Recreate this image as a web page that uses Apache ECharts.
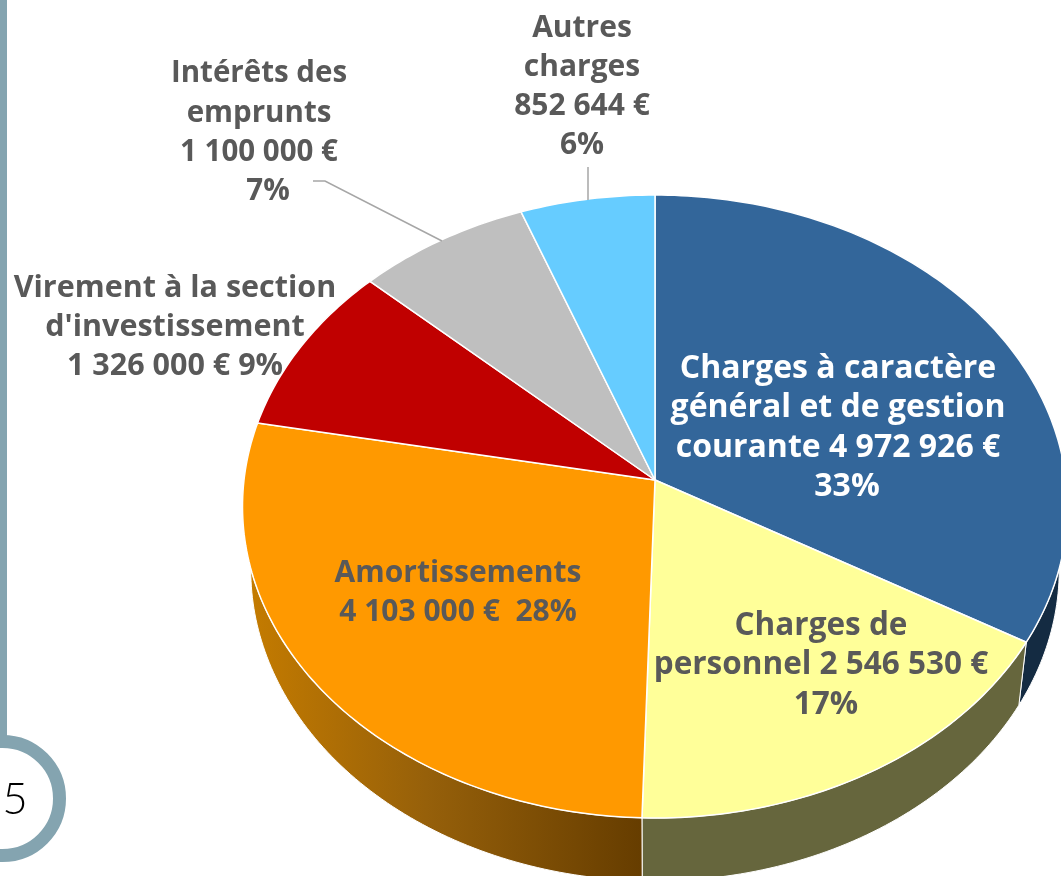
<!DOCTYPE html>
<html>
<head>
<meta charset="utf-8">
<style>html,body{margin:0;padding:0;background:#fff;overflow:hidden}#c{width:1061px;height:876px}</style>
<script src="https://cdn.jsdelivr.net/npm/echarts@6/dist/echarts.min.js"></script>
</head>
<body>
<div id="c"></div>
<script>
const categories = ["Charges à caractère général et de gestion courante","Charges de personnel","Amortissements","Virement à la section d'investissement","Intérêts des emprunts","Autres charges"];
const values = [4972926, 2546530, 4103000, 1326000, 1100000, 852644];
const topColors = ["#33669A","#FFFF99","#FF9900","#C00000","#BFBFBF","#66CCFF"];
const wallColors = ["#142B42","#66663D",null,"#7A0000","#808080","#408099"];
const labelLines = [
  ["Charges à caractère","général et de gestion","courante 4 972 926 €","33%"],
  ["Charges de","personnel 2 546 530 €","17%"],
  ["Amortissements","4 103 000 €  28%"],
  ["Virement à la section","d'investissement","1 326 000 € 9%"],
  ["Intérêts des","emprunts","1 100 000 €","7%"],
  ["Autres","charges","852 644 €","6%"]
];

// layout of the perspective disc
const CX = 655, TOP = 195, BOTTOM = 818, APEX = 480, RX = 411, DEPTH = 63, SHRINK = 0.98;
const persp = (APEX * 2 - TOP - BOTTOM) / (BOTTOM - TOP);
const A = BOTTOM * (1 + persp) - APEX;
function rim(deg) {
  const t = deg * Math.PI / 180, u = -Math.cos(t), s = Math.sin(t), d = 1 + persp * u;
  return [CX + RX * s / d, (A * u + APEX) / d];
}
const total = values.reduce((a, b) => a + b, 0);
function range(i) {
  let before = 0;
  for (let k = 0; k < i; k++) before += values[k];
  return [before / total * 360, (before + values[i]) / total * 360];
}
function arc(a0, a1) {
  const pts = [], n = Math.max(2, Math.ceil(a1 - a0));
  for (let j = 0; j <= n; j++) pts.push(rim(a0 + (a1 - a0) * j / n));
  return pts;
}
const lower = p => [CX + (p[0] - CX) * SHRINK, p[1] + DEPTH];

const labelLayout = [
  {x:838, y:369, size:32, fill:'#fff', dx:[0,0,0,9]},
  {x:821, y:626, size:31.5, fill:'#595959', dx:[0,0,5]},
  {x:458, y:573, size:30, fill:'#595959', dx:[0,0]},
  {x:175, y:288, size:30.5, fill:'#595959', dx:[0,0,0]},
  {x:259, y:74,  size:29.5, fill:'#595959', dx:[0,0,0,9]},
  {x:582, y:28,  size:30, fill:'#595959', dx:[0,0,0,0]}
];
const PITCH = 39.3;
const textEls = [];
labelLines.forEach((lines, i) => lines.forEach((line, j) => {
  const L = labelLayout[i];
  textEls.push({type:'text', z:10, x:L.x + L.dx[j], y:L.y + j * PITCH,
    style:{text:line, align:'center', verticalAlign:'middle', fill:L.fill,
      font:'bold ' + L.size + 'px "Open Sans", sans-serif'}});
}));
const deco = '#84A4B0';
const option = {
  animation:false,
  backgroundColor:'#fff',
  graphic:[
    {type:'rect', shape:{x:0,y:0,width:7,height:737}, style:{fill:deco}},
    {type:'circle', shape:{cx:2.5,cy:798.5,r:57}, style:{fill:'#fff',stroke:deco,lineWidth:13}},
    {type:'text', x:15, y:800, style:{text:'5', align:'center', verticalAlign:'middle', fill:'#000', font:'300 44px Lato, sans-serif'}},
    {type:'polyline', z:5, shape:{points:[[313,181],[325,181],[442,241]]}, style:{stroke:'#A6A6A6',lineWidth:1.5,fill:null}},
    {type:'polyline', z:5, shape:{points:[[588,167],[588,200]]}, style:{stroke:'#A6A6A6',lineWidth:1.5,fill:null}},
    ...textEls
  ],
  series:[
    {type:'custom', coordinateSystem:'none', z:1, silent:true, data:values.map(v=>[v]),
      renderItem(params){
        const [a0,a1] = range(params.dataIndex);
        const up = arc(a0,a1), points = up.concat(up.map(lower).reverse());
        const fill = wallColors[params.dataIndex] || {type:'linear',x:250,y:0,x2:642,y2:0,global:true,
          colorStops:[{offset:0,color:'#C47B00'},{offset:.45,color:'#96600A'},{offset:1,color:'#663D00'}]};
        return {type:'polygon', shape:{points}, style:{fill, stroke:'#fff', lineWidth:1}};
      }},
    {type:'custom', coordinateSystem:'none', z:2, silent:true, data:values.map(v=>[v]),
      renderItem(params){
        const [a0,a1] = range(params.dataIndex);
        const points = [[CX,APEX]].concat(arc(a0,a1));
        return {type:'polygon', shape:{points}, style:{fill:topColors[params.dataIndex], stroke:'#fff', lineWidth:1.5, lineJoin:'round'}};
      }}
  ]
};
const chart = echarts.init(document.getElementById('c'), null, {renderer:'canvas'});
chart.setOption(option);
</script>
</body>
</html>
